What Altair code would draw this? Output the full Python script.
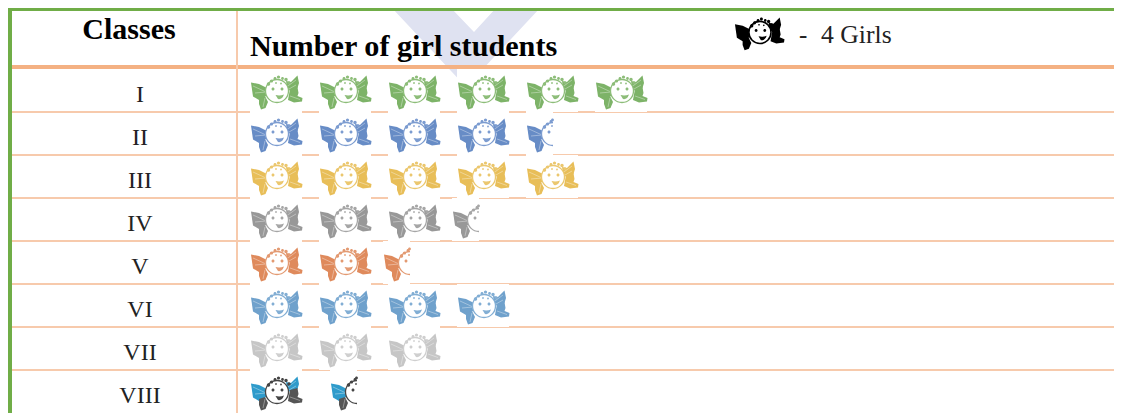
import altair as alt
import pandas as pd

# ---- data ----
classes = ["I", "II", "III", "IV", "V", "VI", "VII", "VIII"]
girls = [24, 18, 20, 14, 10, 16, 12, 6]
girls_per_icon = 4
header_classes = "Classes"
header_number = "Number of girl students"
key_dash = "-"
key_text = "4 Girls"

# ---- styles ----
bow_colors = ["#7DB368", "#678CC6", "#E8BE58", "#989898", "#DF8A5C", "#6FA1CC", "#C6C6C6", "#2F9BCB"]
lobe_colors = ["#7DB368", "#678CC6", "#E8BE58", "#989898", "#DF8A5C", "#6FA1CC", "#C6C6C6", "#555555"]
line_colors = ["#8DBD79", "#7C9CD0", "#EBC76E", "#A6A6A6", "#E39A72", "#82AED4", "#CFCFCF", "#444444"]
half_nudge_px = {"IV": -5, "V": -5, "VIII": 11}  # half icons sit slightly off the column

GREEN, HEAD_ORANGE, ROW_ORANGE, WATERMARK = "#70AD47", "#F4B183", "#F7CAAC", "#DFE2F1"
SERIF = "Liberation Serif"
W, H = 1106, 405
STEP = 69
ICON_SIZE = 52 ** 2


# ---- icon glyphs: drawn in a 52x43 px box, normalised for Vega custom symbols ----
def nx(x):
    return round((x - 26) / 26, 4)


def ny(y):
    return round((y - 21.5) / 26, 4)


def poly(pts):
    return "M" + " L".join(f"{nx(x)},{ny(y)}" for x, y in pts) + " Z"


def open_line(pts):
    return "M" + " L".join(f"{nx(x)},{ny(y)}" for x, y in pts)


def circle(cx, cy, r):
    rr = round(r / 26, 4)
    return (f"M{nx(cx - r)},{ny(cy)} A{rr},{rr} 0 1 1 {nx(cx + r)},{ny(cy)} "
            f"A{rr},{rr} 0 1 1 {nx(cx - r)},{ny(cy)} Z")


BOX = poly([(0, 0), (52, 0), (52, 43), (0, 43)])
HALF_BOX = poly([(0, 0), (27, 0), (27, 43), (0, 43)])
BOW_L = poly([(1, 13.5), (9, 15), (17, 19), (16, 27), (9, 31), (3, 27.5)])
LOBE_L = poly([(9, 29), (15, 27), (18, 33), (15.5, 39), (11, 40.5), (9, 35)])
BOW_R = poly([(36, 12), (41, 13), (47.5, 6.5), (49, 14), (47.5, 19), (40, 22), (37, 18)])
LOBE_R = poly([(40, 20), (47.5, 18), (48.5, 24), (47.5, 27), (52.5, 29), (52, 32.5), (44, 33.5), (38, 31)])
HAIR_BUMPS = [circle(x, y, r) for x, y, r in
              [(18.5, 15, 1.7), (21.5, 12, 1.6), (25, 9.5, 1.5), (28.5, 8, 1.6),
               (32.5, 9.5, 1.4), (36, 10.5, 1.7), (39, 14, 1.7)]]
HALF_HAIR_BUMPS = HAIR_BUMPS[:3] + [circle(26.5, 8, 1.4)]
FACE = circle(27, 22, 11.5)
r_half = round(11.5 / 26, 4)
HALF_FACE = f"M{nx(27)},{ny(10.5)} A{r_half},{r_half} 0 0 0 {nx(27)},{ny(33.5)}"
HALF_FACE_FILL = HALF_FACE + " Z"
DOT_1, DOT_2 = circle(26, 14, 0.9), circle(31, 14.5, 0.9)
EYE_L, EYE_R = circle(23, 20, 1.5), circle(32, 20, 1.5)
MOUTH = ("M" + f"{nx(25.5)},{ny(26)} Q{nx(30)},{ny(27)} {nx(34)},{ny(25.5)} "
         f"Q{nx(32)},{ny(31)} {nx(28)},{ny(30)} Z")
FOLDS_L = " ".join(open_line(p) for p in [[(16, 23), (3, 17)], [(16, 23), (5, 24)], [(15, 29), (13, 38)]])
FOLDS_R = " ".join(open_line(p) for p in [[(38, 17), (46, 11)], [(39, 20), (46, 16)], [(40, 27), (50, 30.5)]])


def full_parts(bow, lobe, line):
    return [(BOX, "#FFFFFF"), (BOW_L, bow), (LOBE_L, lobe), (BOW_R, bow), (LOBE_R, lobe),
            (FACE, "#FFFFFF")] + [(h, line) for h in HAIR_BUMPS] + [
        (DOT_1, line), (DOT_2, line), (EYE_L, line), (EYE_R, line), (MOUTH, line)]


def half_parts(bow, lobe, line):
    return [(HALF_BOX, "#FFFFFF"), (BOW_L, bow), (LOBE_L, lobe), (HALF_FACE_FILL, "#FFFFFF")
            ] + [(h, line) for h in HALF_HAIR_BUMPS] + [(DOT_1, line), (EYE_L, line)]


fill_rows, line_rows, fold_rows = [], [], []
for i, cls in enumerate(classes):
    icons = girls[i] / girls_per_icon
    whole = int(icons)
    for slot in range(whole):
        for path, col in full_parts(bow_colors[i], lobe_colors[i], line_colors[i]):
            fill_rows.append({"cls": cls, "slot": slot, "path": path, "col": col})
        line_rows.append({"cls": cls, "slot": slot, "path": FACE, "col": line_colors[i]})
        fold_rows.append({"cls": cls, "slot": slot, "path": FOLDS_L})
        fold_rows.append({"cls": cls, "slot": slot, "path": FOLDS_R})
    if icons > whole:
        slot = whole + half_nudge_px.get(cls, 0) / STEP
        for path, col in half_parts(bow_colors[i], lobe_colors[i], line_colors[i]):
            fill_rows.append({"cls": cls, "slot": slot, "path": path, "col": col})
        line_rows.append({"cls": cls, "slot": slot, "path": HALF_FACE, "col": line_colors[i]})
        fold_rows.append({"cls": cls, "slot": slot, "path": FOLDS_L})

fill_df = pd.DataFrame(fill_rows)
line_df = pd.DataFrame(line_rows)
fold_df = pd.DataFrame(fold_rows)
class_df = pd.DataFrame({"cls": classes})

# scales: the 8 rows fill the table under the header, slots step along the row
y_scale = alt.Scale(domain=classes, range=[61, 405], paddingInner=0, paddingOuter=0)
x_scale = alt.Scale(domain=[0, 11], range=[268, 268 + 11 * STEP])
y_enc = alt.Y("cls:N", scale=y_scale, axis=None)
x_enc = alt.X("slot:Q", scale=x_scale, axis=None)

# watermark chevron (behind everything), clipped at the page's top edge
wm_pts = [(392, 8), (451, 8), (474, 32), (496, 8), (540, 8), (466, 87)]
WM_PATH = "M" + " L".join(f"{round((x - 466) / 100, 4)},{round((y - 44) / 100, 4)}" for x, y in wm_pts) + " Z"
watermark = alt.Chart(pd.DataFrame({"p": [WM_PATH]})).mark_point(
    filled=True, size=40000, opacity=1, color=WATERMARK, strokeWidth=0
).encode(x=alt.value(458), y=alt.value(36), shape=alt.Shape("p:N", scale=None))


def hrule(y, color, width):
    return alt.Chart().mark_rule(color=color, strokeWidth=width).encode(
        x=alt.value(0), x2=alt.value(W), y=alt.value(y))


row_lines = alt.Chart(pd.DataFrame({"cls": classes[1:]})).mark_rule(
    color=ROW_ORANGE, strokeWidth=1.8
).encode(y=alt.Y("cls:N", scale=y_scale, axis=None, bandPosition=0), x=alt.value(4), x2=alt.value(W))
header_line = hrule(59, HEAD_ORANGE, 4)
top_line = hrule(1.5, GREEN, 3)
sep_line = alt.Chart().mark_rule(color=ROW_ORANGE, strokeWidth=2).encode(
    x=alt.value(229), y=alt.value(3), y2=alt.value(H))
left_line = alt.Chart().mark_rule(color=GREEN, strokeWidth=4).encode(
    x=alt.value(2), y=alt.value(0), y2=alt.value(H))

icons_fill = alt.Chart(fill_df).mark_point(filled=True, size=ICON_SIZE, opacity=1, strokeWidth=0).encode(
    x=x_enc, y=y_enc, shape=alt.Shape("path:N", scale=None), color=alt.Color("col:N", scale=None))
icons_folds = alt.Chart(fold_df).mark_point(
    filled=False, size=ICON_SIZE, opacity=0.4, strokeWidth=0.9, color="#FFFFFF"
).encode(x=x_enc, y=y_enc, shape=alt.Shape("path:N", scale=None))
icons_line = alt.Chart(line_df).mark_point(filled=False, size=ICON_SIZE, opacity=1, strokeWidth=1.3).encode(
    x=x_enc, y=y_enc, shape=alt.Shape("path:N", scale=None), stroke=alt.Stroke("col:N", scale=None))

# key icon in the header
key_parts = [p for p in full_parts("#000000", "#000000", "#000000") if p[0] != BOX]
key_fill = alt.Chart(pd.DataFrame(key_parts, columns=["path", "col"])).mark_point(
    filled=True, size=2500, opacity=1, strokeWidth=0
).encode(x=alt.value(751), y=alt.value(24), shape=alt.Shape("path:N", scale=None),
         color=alt.Color("col:N", scale=None))
key_line = alt.Chart(pd.DataFrame({"path": [FACE]})).mark_point(
    filled=False, size=2500, opacity=1, strokeWidth=1.6, color="#000000"
).encode(x=alt.value(751), y=alt.value(24), shape=alt.Shape("path:N", scale=None))

class_labels = alt.Chart(class_df).mark_text(
    font=SERIF, fontSize=24, color="#222222", align="center", baseline="alphabetic", dy=11.5
).encode(y=y_enc, x=alt.value(132), text="cls:N")


def label(text, x, y, size, bold=False, align="left", color="#222222"):
    return alt.Chart(pd.DataFrame({"t": [text]})).mark_text(
        font=SERIF, fontSize=size, fontWeight="bold" if bold else "normal",
        color=color, align=align, baseline="alphabetic"
    ).encode(x=alt.value(x), y=alt.value(y), text="t:N")


head_a = label(header_classes, 121, 31, 30, bold=True, align="center", color="#000000")
head_b = label(header_number, 242, 48, 30.2, bold=True, color="#000000")
dash = label(key_dash, 791, 35, 25)
key_label = label(key_text, 813, 35, 25.7)

chart = alt.layer(
    watermark, row_lines, header_line, top_line, sep_line, left_line,
    icons_fill, icons_folds, icons_line, key_fill, key_line,
    class_labels, head_a, head_b, dash, key_label,
).properties(
    width=W, height=H, padding=0,
    autosize=alt.AutoSizeParams(type="none", contains="padding"),
).configure_view(stroke=None)

chart.save("out.html", embed_options={"renderer": "svg", "actions": False})
